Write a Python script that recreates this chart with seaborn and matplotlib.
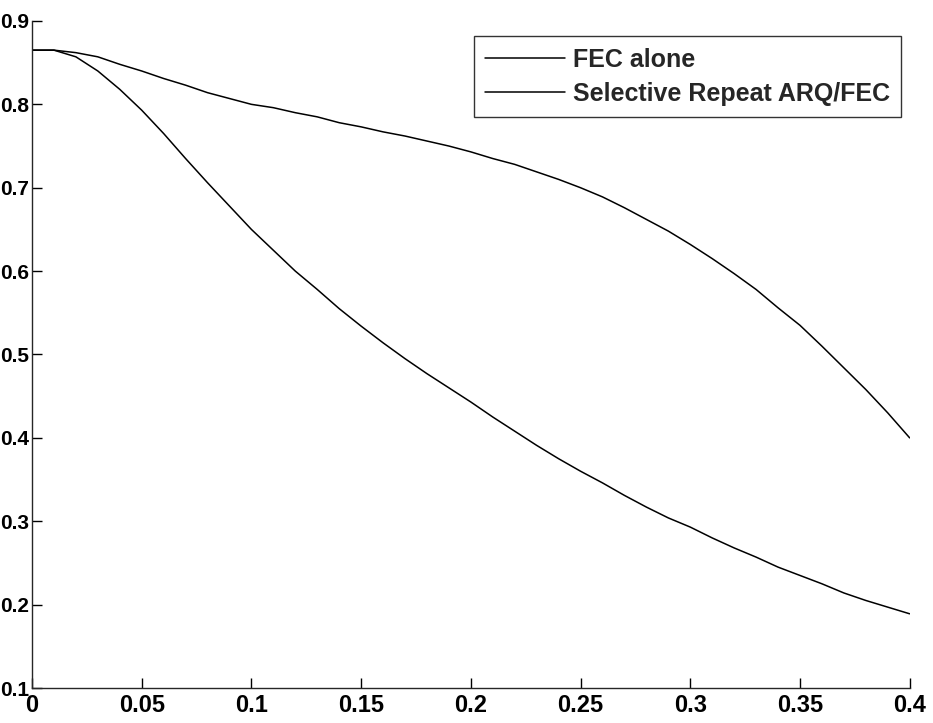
import numpy as np
import pandas as pd
import matplotlib
matplotlib.use("Agg")
import matplotlib.pyplot as plt
import seaborn as sns

# error probability axis
x_vals = [0.0, 0.01, 0.02, 0.03, 0.04, 0.05, 0.06, 0.07, 0.08, 0.09,
          0.10, 0.11, 0.12, 0.13, 0.14, 0.15, 0.16, 0.17, 0.18, 0.19,
          0.20, 0.21, 0.22, 0.23, 0.24, 0.25, 0.26, 0.27, 0.28, 0.29,
          0.30, 0.31, 0.32, 0.33, 0.34, 0.35, 0.36, 0.37, 0.38, 0.39, 0.40]

fec_alone = [0.865, 0.865, 0.857, 0.840, 0.818, 0.793, 0.765, 0.735, 0.706, 0.678,
             0.650, 0.625, 0.600, 0.578, 0.555, 0.534, 0.514, 0.495, 0.477, 0.460,
             0.443, 0.425, 0.408, 0.391, 0.375, 0.360, 0.346, 0.331, 0.317, 0.304,
             0.293, 0.280, 0.268, 0.257, 0.245, 0.235, 0.225, 0.214, 0.205, 0.197, 0.189]

sr_arq_fec = [0.865, 0.865, 0.862, 0.857, 0.848, 0.840, 0.831, 0.823, 0.814, 0.807,
              0.800, 0.796, 0.790, 0.785, 0.778, 0.773, 0.767, 0.762, 0.756, 0.750,
              0.743, 0.735, 0.728, 0.719, 0.710, 0.700, 0.689, 0.676, 0.662, 0.648,
              0.632, 0.615, 0.597, 0.578, 0.556, 0.535, 0.510, 0.484, 0.458, 0.430, 0.400]

series_names = ["FEC alone", "Selective Repeat ARQ/FEC"]
xtick_labels = ["0", "0.05", "0.1", "0.15", "0.2", "0.25", "0.3", "0.35", "0.4"]
ytick_labels = ["0.1", "0.2", "0.3", "0.4", "0.5", "0.6", "0.7", "0.8", "0.9"]

df = pd.DataFrame({
    "x": x_vals * 2,
    "y": fec_alone + sr_arq_fec,
    "scheme": [series_names[0]] * len(x_vals) + [series_names[1]] * len(x_vals),
})

sns.set_style("ticks")
plt.rcParams["font.family"] = ["Liberation Sans", "DejaVu Sans"]

fig = plt.figure(figsize=(9.33, 7.23), dpi=100)
ax = fig.add_axes([0.0343, 0.0484, 0.9407, 0.9226])

sns.lineplot(data=df, x="x", y="y", hue="scheme", palette=["black", "black"],
             linewidth=1.1, ax=ax, legend=True)

ax.set_xlim(0, 0.4)
ax.set_ylim(0.1, 0.9)
ax.set_xticks([float(t) for t in xtick_labels])
ax.set_xticklabels(xtick_labels)
ax.set_yticks([float(t) for t in ytick_labels])
ax.set_yticklabels(ytick_labels)
ax.set_xlabel("")
ax.set_ylabel("")
ax.tick_params(direction="in", length=7, width=1, colors="black")
ax.tick_params(axis="y", labelsize=15, pad=2)
ax.tick_params(axis="x", labelsize=17, pad=4)
for lab in ax.get_xticklabels() + ax.get_yticklabels():
    lab.set_fontweight("bold")
sns.despine(ax=ax)
ax.spines["left"].set_linewidth(1)
ax.spines["bottom"].set_linewidth(1)

leg = ax.legend(loc="upper right", bbox_to_anchor=(0.99, 0.977), borderaxespad=0,
                fontsize=18, frameon=True, fancybox=False, edgecolor="black",
                handlelength=3.2, handletextpad=0.3, borderpad=0.45,
                labelspacing=0.42)
leg.get_frame().set_linewidth(1)
for t in leg.get_texts():
    t.set_fontweight("bold")

fig.savefig("out.png", dpi=100, facecolor="white")
